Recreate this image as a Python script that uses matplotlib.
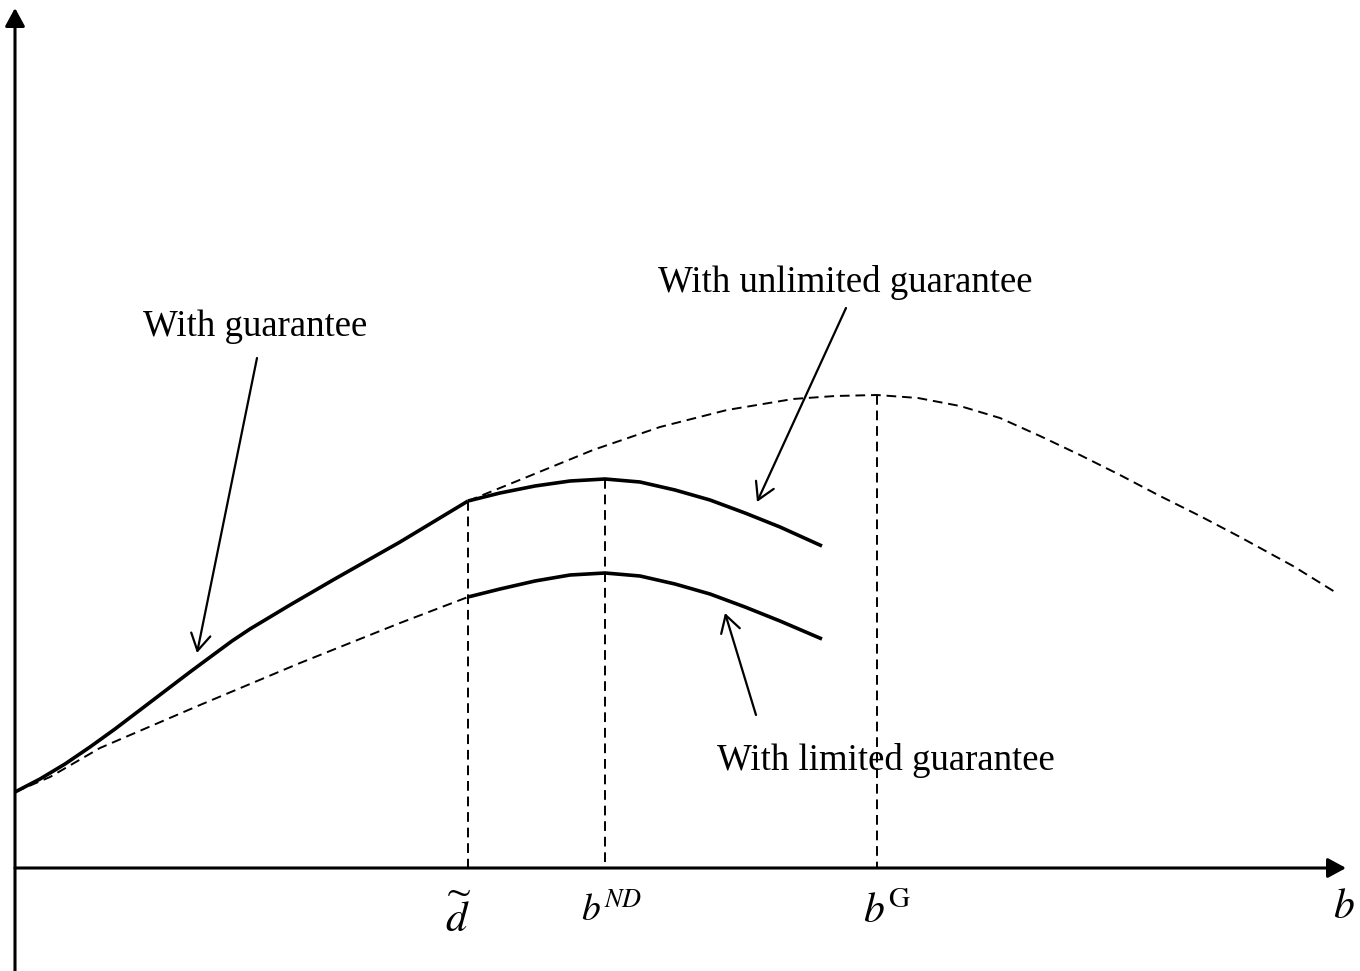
import matplotlib
matplotlib.use('Agg')
from matplotlib import pyplot as plt

plt.rcParams['font.family'] = ['Liberation Serif', 'DejaVu Serif']
plt.rcParams['mathtext.fontset'] = 'stix'

# === Données (coordonnées image) ===
# courbe "avec garantie" (trait plein) jusqu'à d~
guar_x = [15, 40, 65, 90, 115, 140, 165, 190, 213, 232, 250, 270, 290, 333, 400, 468]
guar_y = [792, 779, 764, 747, 729, 710, 691, 672, 655, 641, 629, 617, 605, 580, 542, 501]

# courbe G complète en pointillés (après d~)
full_x = [468, 527, 593, 660, 727, 793, 835, 877, 918, 960, 1000, 1040,
          1080, 1120, 1160, 1200, 1240, 1293, 1335]
full_y = [501, 477, 450, 427, 410, 399, 396, 395, 398, 406, 418, 436,
          455, 475, 496, 516, 537, 566, 592]

# courbe sans garantie (pointillés) jusqu'à d~
nd_x = [15, 50, 100, 200, 300, 400, 468]
nd_y = [792, 777, 748, 705, 663, 623, 597]

# garantie illimitée / limitée après d~
after_x = [468, 500, 535, 570, 605, 640, 675, 710, 745, 780, 822]
unlim_y = [501, 493, 486, 481, 479, 482, 490, 500, 513, 527, 546]
lim_y = [597, 589, 581, 575, 573, 576, 584, 594, 607, 621, 639]

# repères verticaux : d~, b^ND, b^G
mark_x = [468, 605, 877]
mark_top = [501, 479, 395]
axis_y = 868
axis_x = 15

# === Figure ===
fig = plt.figure(figsize=(13.6, 9.71), dpi=100)
ax = fig.add_axes([0, 0, 1, 1])
ax.set_xlim(0, 1360)
ax.set_ylim(971, 0)
ax.axis('off')

axis_arrow = dict(arrowstyle='-|>,head_length=0.55,head_width=0.3', lw=2.2,
                  color='k', mutation_scale=20, shrinkA=0, shrinkB=0)
ax.annotate('', xy=(axis_x, 8), xytext=(axis_x, 971), arrowprops=axis_arrow)
ax.annotate('', xy=(1346, axis_y), xytext=(axis_x, axis_y), arrowprops=axis_arrow)

dash = dict(color='k', lw=1.4, dashes=(5, 3))
ax.plot(guar_x, guar_y, **dash)
ax.plot(full_x, full_y, **dash)
ax.plot(nd_x, nd_y, **dash)
for x, top in zip(mark_x, mark_top):
    ax.plot([x, x], [top, axis_y], **dash)

solid = dict(color='k', lw=2.6, solid_joinstyle='round', solid_capstyle='butt')
ax.plot(guar_x, guar_y, **solid)
ax.plot(after_x, unlim_y, **solid)
ax.plot(after_x, lim_y, **solid)

# === Annotations ===
lbl = dict(fontsize=26.5, ha='center', va='center')
arr = dict(arrowstyle='->,head_length=0.6,head_width=0.35', lw=1.6, color='k',
           mutation_scale=20, shrinkA=0, shrinkB=0)
ax.text(255, 327, 'With guarantee', **lbl)
ax.annotate('', xy=(197, 653), xytext=(257, 358), arrowprops=arr)
ax.text(845, 282, 'With unlimited guarantee', **lbl)
ax.annotate('', xy=(757, 502), xytext=(846, 308), arrowprops=arr)
ax.text(886, 760, 'With limited guarantee', **lbl)
ax.annotate('', xy=(725, 613), xytext=(756, 715), arrowprops=arr)

ax.text(458, 932, r'$\widetilde{d}$', fontsize=31, ha='center', va='baseline')
ax.text(612, 922, r'$b^{ND}$', fontsize=27, ha='center', va='baseline')
ax.text(887, 923, r'$b^{\mathrm{G}}$', fontsize=30, ha='center', va='baseline')
ax.text(1344, 918, r'$b$', fontsize=30, ha='center', va='baseline')

fig.savefig('out.png', dpi=100)
